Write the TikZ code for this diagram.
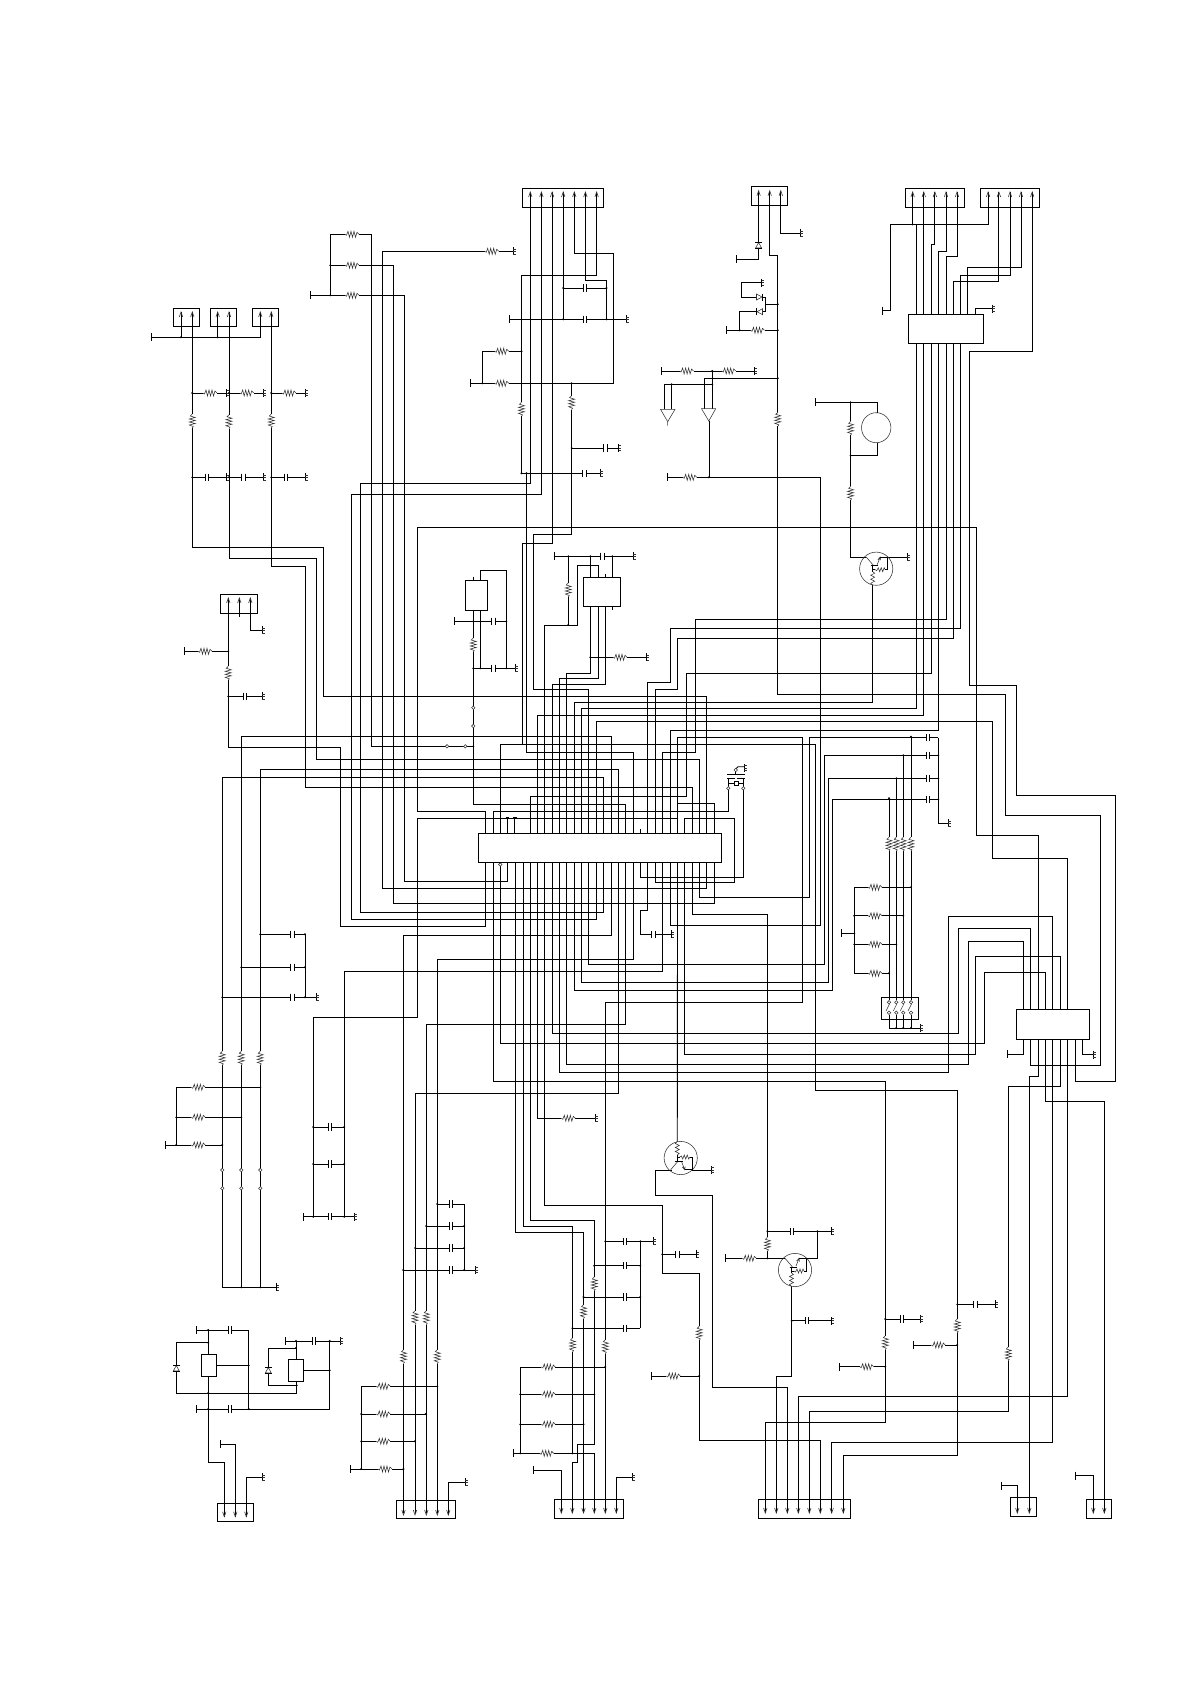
\documentclass[tikz,border=0pt]{standalone}
\tikzset{
 w/.style={line width=0.85pt,black,line join=miter},
 sym/.style={line width=0.55pt,black!80},
 boxa/.style={draw=black,line width=0.85pt,fill=white,inner sep=0pt,outer sep=0pt},
 boxb/.style={draw=black,line width=0.85pt,inner sep=0pt,outer sep=0pt}
}
\newcommand{\resH}[2]{\begin{scope}[shift={(#1,#2)}]\fill[white](-7,-3.2)rectangle(7,3.2);\draw[sym](-7,0)--(-5.5,1)--(-4,-3)--(-2.5,3)--(-1,-3)--(.5,3)--(2,-3)--(3.5,3)--(5,-2)--(7,0);\end{scope}}
\newcommand{\resV}[2]{\begin{scope}[shift={(#1,#2)},rotate=90]\fill[white](-7,-3.2)rectangle(7,3.2);\draw[sym](-7,0)--(-5.5,1)--(-4,-3)--(-2.5,3)--(-1,-3)--(.5,3)--(2,-3)--(3.5,3)--(5,-2)--(7,0);\end{scope}}
\newcommand{\capH}[2]{\begin{scope}[shift={(#1,#2)}]\fill[white](-1.7,-4)rectangle(1.7,4);\draw[w](-1.7,-3.7)--(-1.7,3.7)(1.7,-3.7)--(1.7,3.7);\end{scope}}
\newcommand{\gndR}[2]{\begin{scope}[shift={(#1,#2)}]\draw[w](0,-4)--(0,4);\draw[sym](0,-2.5)--(2.5,-2.5)(0,0)--(2.5,0)(0,2.5)--(2.5,2.5);\end{scope}}
\newcommand{\tickV}[2]{\draw[w](#1,#2-4)--(#1,#2+4);}
\newcommand{\dotN}[2]{\fill(#1,#2)circle[radius=1.1];}
\newcommand{\openC}[2]{\draw[sym,fill=white](#1,#2)circle[radius=1.7];}
\newcommand{\pinU}[2]{\draw[sym,line width=.6pt](#1-1.7,#2+5)--(#1,#2)--(#1+1.7,#2+5);}
\newcommand{\pinD}[2]{\draw[sym,line width=.6pt](#1-1.7,#2-5)--(#1,#2)--(#1+1.7,#2-5);}
\newcommand{\boxN}[6]{\pgfmathsetmacro\bw{#5-#3}\pgfmathsetmacro\bh{#6-#4}\pgfmathsetmacro\bx{(#5+#3)/2}\pgfmathsetmacro\by{(#6+#4)/2}\node[#2,minimum width=\bw pt,minimum height=\bh pt](#1)at(\bx,\by){};}
\newcommand{\transN}[3]{\begin{scope}[shift={(#1,#2)},yscale=#3]
\draw[sym](0,0)circle[radius=16.6];
\draw[sym](-10,-11.7)--(-2.5,-3)(1,-4)--(4,-11.7)(1.6,-9)--(4,-11.7)--(4.5,-8.5);
\draw[w](-5.5,-3)--(2,-3)(-3.4,-3)--(-3.4,3)(4,-11.7)--(11.7,-11.7)--(11.7,1)--(9,1)(-3.4,1)--(-1,1);
\draw[sym](-1,1)--(.5,2)--(2,-1)--(3.5,3)--(5,-1)--(6.5,3)--(8,-1)--(9,1);
\draw[sym](-3.4,3)--(-1.5,4.5)--(-5.5,6.5)--(-1.5,8.5)--(-5.5,10.5)--(-1.5,12.5)--(-5.5,14.5)--(-3.4,16.6);
\end{scope}}
\newcommand{\diodeH}[3]{\begin{scope}[shift={(#1,#2)},xscale=#3]\fill[white](-3,-3.5)rectangle(3,3.5);\draw[sym](-3,-3)--(-3,3)--(2.5,0)--cycle;\draw[w](2.7,-3.5)--(2.7,3.5);\end{scope}}
\newcommand{\diodeV}[2]{\begin{scope}[shift={(#1,#2)}]\fill[white](-3.5,-3)rectangle(3.5,3);\draw[sym](-3,3)--(3,3)--(0,-2.5)--cycle;\draw[w](-3.5,-2.7)--(3.5,-2.7)(-3.5,3)--(3.5,3);\end{scope}}
\begin{document}
\begin{tikzpicture}[x=1pt,y=-1pt]
\useasboundingbox (0,0) rectangle (1190,1684);
\fill[white](0,0)rectangle(1190,1684);
% ---- wires: upper left
\draw[w](192.3,312)--(192.3,547.3)--(323.3,547.3)--(323.3,696.3)--(706.7,696.3)--(706.7,840);
\draw[w](229,312)--(229,558.3)--(316.7,558.3)--(316.7,759.3)--(699.3,759.3)--(699.3,840);
\draw[w](271.3,312)--(271.3,566)--(305.7,566)--(305.7,787.5)--(692.3,787.5)--(692.3,840);
\draw[w](151.7,337.3)--(260.3,337.3)--(260.3,312)(181,312)--(181,337.3)(217.7,312)--(217.7,337.3);
\draw[w](192.3,393)--(226.7,393)(229,393)--(263.3,393)(271.3,393)--(305,393);
\draw[w](192.3,477.3)--(226.7,477.3)(229,477.3)--(263.3,477.3)(271.3,477.3)--(305,477.3);
\draw[w](330.3,234.3)--(371.3,234.3)--(371.3,746.3)--(473.3,746.3);
\draw[w](330.3,234.3)--(330.3,295.3)(330.3,265.3)--(393.3,265.3)--(393.3,903.3)--(714.3,903.3)--(714.3,856);
\draw[w](310.3,295.3)--(404.3,295.3)--(404.3,881.5)--(507.3,881.5)--(507.3,856);
\draw[w](513.3,251.3)--(382.3,251.3)--(382.3,888.3)--(706.7,888.3)--(706.7,856);
\draw[w](530.3,192)--(530.3,483.3)--(360.7,483.3)--(360.7,912.3)--(603.7,912.3)--(603.7,856);
\draw[w](541.4,192)--(541.4,494.3)--(351.3,494.3)--(351.3,919.5)--(596.7,919.5)--(596.7,856);
\draw[w](552.1,192)--(552.1,543.3)--(522.3,543.3)--(522.3,744.3);
\draw[w](1038.3,1015)--(1038.3,835.3)--(976.3,835.3)--(976.3,527.3)--(417.3,527.3)--(417.3,811.5)--(485.3,811.5)--(485.3,840);
% ---- top middle block
\draw[w](563.2,192)--(563.2,319.3)(509.6,319.3)--(626.4,319.3)(563.2,288)--(606.5,288);
\draw[w](574.3,192)--(574.3,253.3)--(613.8,253.3)--(613.8,383.3)--(470.7,383.3);
\draw[w](585.4,192)--(585.4,280.3)--(606.5,280.3)--(606.5,319.3);
\draw[w](596.6,192)--(596.6,275.3)--(521.5,275.3)--(521.5,473.3)--(600.4,473.3);
\draw[w](482.3,351.3)--(521.5,351.3)(482.3,351.3)--(482.3,383.3);
\draw[w](571.6,383.3)--(571.6,534.3)--(533.3,534.3)--(533.3,689.3)--(588.3,689.3)--(588.3,840);
\draw[w](571.6,448)--(618.8,448);
\draw[w](526.5,473.3)--(526.5,752.3)--(633.7,752.3)--(633.7,840);
\draw[w](500.3,840)--(500.3,744.3)--(815.7,744.3)--(815.7,1090)--(957.3,1090)--(957.3,1455.3)--(843.3,1455.3)--(843.3,1513);
% ---- small ICs
\draw[w](480.3,585)--(480.3,570.3)--(506.3,570.3)--(506.3,668.3)(454.7,621.3)--(506.3,621.3)(473.3,668.3)--(515,668.3)(480.3,605)--(480.3,668.3);
\draw[w](473.3,576.5)--(473.3,585)(473.3,605)--(473.3,804.3)--(625.5,804.3)--(625.5,840);
\draw[w](554.3,556.3)--(633.3,556.3)(568.3,556.3)--(568.3,625)(590.3,556.3)--(590.3,582)(612.3,556.3)--(612.3,582);
\draw[w](605.7,573.7)--(605.7,582)(612.3,602)--(612.3,610);
\draw[w](544.3,840)--(544.3,625)--(577.3,625)--(577.3,565.3)--(598.3,565.3)--(598.3,582);
\draw[w](590.3,602)--(590.3,673.3)--(566.3,673.3)--(566.3,840);
\draw[w](598.3,602)--(598.3,678.3)--(559.3,678.3)--(559.3,840);
\draw[w](605.7,602)--(605.7,684.3)--(552.3,684.3)--(552.3,840);
\draw[w](590.3,657.3)--(646.7,657.3);
% ---- connector E
\draw[w](228.3,598)--(228.3,747.3)--(340.7,747.3)--(340.7,926.3)--(485.3,926.3)--(485.3,856);
\draw[w](239.3,598)--(239.3,616.7)(250.3,598)--(250.3,630.3)--(262.3,630.3);
\draw[w](184.3,651.3)--(228.3,651.3)(228.3,696.3)--(262.3,696.3);
% ---- connectors C D and top IC
\draw[w](912.6,192)--(912.6,224.3)(882,310.7)--(890,310.7)--(890,224.3)--(988.1,224.3)--(988.1,192);
\draw[w](916,224.3)--(916,320)(916,338)--(916,708.3)--(581.3,708.3)--(581.3,840);
\draw[w](923.8,192)--(923.8,320)(923.8,338)--(923.8,715.3)--(537.3,715.3)--(537.3,840);
\draw[w](934.9,192)--(934.9,244.7)--(931,244.7)--(931,320)(931,338)--(931,673.3)--(686.7,673.3)--(686.7,796.7)--(530.3,796.7)--(530.3,840);
\draw[w](946,192)--(946,251.3)--(938.3,251.3)--(938.3,320)(938.3,338)--(938.3,730.5)--(670.3,730.5)--(670.3,840);
\draw[w](957,192)--(957,256.3)--(946.4,256.3)--(946.4,320)(946.4,338)--(946.4,619.3)--(695.5,619.3)--(695.5,752.3)--(662.3,752.3)--(662.3,840);
\draw[w](998.9,192)--(998.9,281.3)--(953.3,281.3)--(953.3,320)(953.3,338)--(953.3,638.3)--(677.7,638.3)--(677.7,689.3)--(655.3,689.3)--(655.3,840);
\draw[w](1010,192)--(1010,275.3)--(960.2,275.3)--(960.2,320)(960.2,338)--(960.2,628.5)--(670.3,628.5)--(670.3,682.3)--(647.3,682.3)--(647.3,840);
\draw[w](1021,192)--(1021,267.3)--(967.8,267.3)--(967.8,320);
\draw[w](1032.2,192)--(1032.2,351.3)--(969,351.3)--(969,685.3)--(1016.7,685.3)--(1016.7,795.3)--(1115.3,795.3)--(1115.3,1081.3)--(1075.3,1081.3)--(1075.3,1030);
\draw[w](975,320)--(975,308.7)--(992.3,308.7);
% ---- connector B column
\draw[w](758.6,190.7)--(758.6,259.3)--(736,259.3);
\draw[w](780.8,190.7)--(780.8,233.3)--(800,233.3);
\draw[w](769.7,190.7)--(769.7,255.3)--(777.8,255.3)--(777.8,694.3)--(1005.3,694.3)--(1005.3,815.3)--(1100.3,815.3)--(1100.3,1065.3)--(1030.3,1065.3)--(1030.3,1030);
\draw[w](761.7,282.7)--(741,282.7)--(741,297)--(765.9,297)--(765.9,311.7)--(739.8,311.7)--(739.8,330.3);
\draw[w](765.9,304.3)--(777.8,304.3)(726,330.3)--(777.8,330.3);
\draw[w](661,371)--(754.8,371)(712.3,371)--(712.3,408.7)(704.6,408.7)--(704.6,378.3)--(777.8,378.3);
\draw[w](664.8,409.3)--(664.8,384.3)--(712.3,384.3)(671.6,384.3)--(671.6,409.3);
\draw[w](667.4,477.3)--(820.5,477.3)--(820.5,925.5)--(670.3,925.5)--(670.3,856);
\draw[line width=.6pt,black](708.8,421)--(708.8,477.3);
\draw[sym](660.5,409.3)--(675,409.3)--(667.7,421.7)--cycle(667.7,421.7)--(667.7,425.7);
\draw[sym](701.5,408.7)--(715.7,408.7)--(708.8,421)--cycle;
% ---- motor column
\draw[w](815,402.3)--(877,402.3)--(877,413.3)(877,442.7)--(877,455.7)--(850.6,455.7);
\draw[line width=.6pt,black](850.6,402.3)--(850.6,557.3)--(866,557.3);
\draw[w](887,557.3)--(907,557.3);
\draw[sym](876.2,427.7)circle[x radius=14.7,y radius=15];
% ---- nets around main IC
\draw[w](872.8,585)--(872.8,702.3)--(574.3,702.3)--(574.3,840);
\draw[w](574.3,856)--(574.3,990.3)--(832.5,990.3)--(832.5,799.3)--(938.3,799.3);
\draw[w](581.3,856)--(581.3,982.5)--(828.3,982.5)--(828.3,778.3)--(938.3,778.3);
\draw[w](588.3,856)--(588.3,964.3)--(824.3,964.3)--(824.3,755.3)--(938.3,755.3);
\draw[w](677.7,840)--(677.7,803.3)--(714.3,803.3)--(714.3,840)(677.7,803.3)--(677.7,737.5)--(802.5,737.5)--(802.5,1002.3)--(605.3,1002.3)--(605.3,1513);
\draw[w](677.7,840)--(677.7,818.3)--(417.3,818.3)--(417.3,1017.3)--(313.3,1017.3)--(313.3,1216.7);
\draw[w](684.3,840)--(684.3,818.3)--(734.3,818.3)--(734.3,882.3)--(655.3,882.3)--(655.3,856);
\draw[w](640.3,856)--(640.3,877.3)--(743.3,877.3)--(743.3,788.3);
\draw[w](493.3,840)--(493.3,811.7)--(728.3,811.7)--(728.3,788.3);
\draw[w](493.3,856)--(493.3,1081.3)--(885.3,1081.3)--(885.3,1422.3)--(765.3,1422.3)--(765.3,1513);
\draw[w](662.3,856)--(662.3,971.3)--(344.3,971.3)--(344.3,1216.7);
\draw[w](633.7,856)--(633.7,959.3)--(437.3,959.3)--(437.3,1513);
\draw[w](611.3,840)--(611.3,736.5)--(241.3,736.5)--(241.3,1287.3);
\draw[w](611.3,856)--(611.3,935.5)--(403.3,935.5)--(403.3,1513);
\draw[w](618.5,840)--(618.5,769.3)--(260.3,769.3)--(260.3,1287.3);
\draw[w](618.5,856)--(618.5,1093.3)--(415.3,1093.3)--(415.3,1513);
\draw[w](603.7,840)--(603.7,777.3)--(222.3,777.3)--(222.3,1287.3)--(276.7,1287.3);
\draw[w](596.7,840)--(596.7,721.5)--(992.3,721.5)--(992.3,858.3)--(1067.3,858.3)--(1067.3,1015);
\draw[w](625.5,856)--(625.5,1024.5)--(426.3,1024.5)--(426.3,1513);
\draw[w](692.3,856)--(692.3,914.3)--(767.5,914.3)--(767.5,1258.3);
\draw[w](699.3,856)--(699.3,897.3)--(809.3,897.3)--(809.3,737.7)--(938.3,737.7);
\draw[w](647.3,856)--(647.3,910.3)--(640.3,910.3)--(640.3,934.3)--(671.7,934.3);
\draw[w](514.7,817.3)--(514.7,840)(507.3,817.3)--(507.3,840)(640.3,829)--(640.3,840);
\draw[w](505.5,817.3)--(509,817.3)(513,817.3)--(516.5,817.3);
\draw[w](537.3,856)--(537.3,1118.3)--(595,1118.3);
\draw[w](515.7,856)--(515.7,1232.3)--(583.5,1232.3)--(583.5,1513);
\draw[w](523,856)--(523,1226.5)--(572.5,1226.5)--(572.5,1453.3)--(594.3,1453.3)--(594.3,1513);
\draw[w](530.3,856)--(530.3,1220.3)--(594.3,1220.3)--(594.3,1444.3)--(577.3,1444.3)--(577.3,1462.3)--(572.3,1462.3)--(572.3,1513);
\draw[w](544.3,856)--(544.3,1205.7)--(662.3,1205.7)--(662.3,1273.3)--(699.3,1273.3)--(699.3,1440.7)--(820.3,1440.7)--(820.3,1513);
\draw[w](552.3,856)--(552.3,1033.3)--(958.3,1033.3)--(958.3,928.3)--(1030.3,928.3)--(1030.3,1015);
\draw[w](559.3,856)--(559.3,1072.3)--(948.3,1072.3)--(948.3,916.3)--(1052.3,916.3)--(1052.3,1015);
\draw[w](566.3,856)--(566.3,1064.5)--(968.3,1064.5)--(968.3,941.7)--(1023.3,941.7)--(1023.3,1015);
\draw[w](684.3,856)--(684.3,1054.3)--(975.3,1054.3)--(975.3,956.3)--(1060.3,956.3)--(1060.3,1015);
\draw[w](500.3,856)--(500.3,1043.3)--(984.3,1043.3)--(984.3,972.3)--(1045.7,972.3)--(1045.7,1015);
\draw[w](677.5,856)--(677.3,1141.7);
% crystal
\draw[w](727.3,774.7)--(745,774.7)(727.3,778.7)--(734.7,778.7)(737,778.7)--(745,778.7);
\draw[w](728.3,778.7)--(728.3,788.3)(743.3,778.7)--(743.3,788.3)(728.3,783.3)--(743.3,783.3)(735.7,774.7)--(735.7,770);
\draw[w](735.7,769)--(738,766.7)--(744.3,766.7);
\fill[white](734.3,781)rectangle(738,785.7);\draw[w](734.3,781)rectangle(738,785.7);
% ---- right side
\draw[w](938.3,737.7)--(938.3,823.3)--(948.3,823.3);
\draw[w](889,798.3)--(889,1000)(896.3,778.3)--(896.3,1000)(903.3,755.3)--(903.3,1000)(911,736.7)--(911,1000);
\draw[w](889,1015)--(889,1028)--(920,1028)(896.3,1015)--(896.3,1028)(903.3,1015)--(903.3,1028)(911,1015)--(911,1028);
\draw[w](854.3,887.3)--(911,887.3)(854.3,915.7)--(903.3,915.7)(854.3,944.3)--(896.3,944.3)(854.3,973.3)--(889,973.3)(854.3,887.3)--(854.3,973.3)(841.7,933.3)--(854.3,933.3);
\draw[w](1023.3,1030)--(1023.3,1054.3)--(1007.3,1054.3);
\draw[w](1038.3,1030)--(1038.3,1076)--(1029.3,1076)--(1029.3,1513);
\draw[w](1045.7,1030)--(1045.7,1101.3)--(1104.3,1101.3)--(1104.3,1513);
\draw[w](1052.3,1030)--(1052.3,1442.3)--(831.7,1442.3)--(831.7,1513);
\draw[w](1060.3,1030)--(1060.3,1086.3)--(1008.3,1086.3)--(1008.3,1411.7)--(809.3,1411.7)--(809.3,1513);
\draw[w](1067.3,1030)--(1067.3,1396.3)--(798.3,1396.3)--(798.3,1513);
\draw[w](1082.7,1030)--(1082.7,1054.7)--(1093.3,1054.7);
\draw[w](1017.3,1513)--(1017.3,1485.7)--(1001.3,1485.7)(1093.3,1513)--(1093.3,1475.7)--(1075.3,1475.7);
\draw[w](885.3,1319)--(920,1319)(839.3,1366.7)--(885.3,1366.7)(957.3,1304.3)--(995.7,1304.3)(913.3,1345)--(957.3,1345);
% ---- transistors bottom
\draw[w](776.3,1513)--(776.3,1376)--(791.7,1376)--(791.7,1286);
\draw[w](787.3,1513)--(787.3,1387.3)--(712.7,1387.3)--(712.7,1195.7)--(655.3,1195.7)--(655.3,1170)--(671.7,1170)(692.3,1170)--(711.3,1170);
\draw[w](662.3,1254.3)--(696.7,1254.3)(651.7,1376)--(699.3,1376);
\draw[w](767.5,1231.3)--(831.7,1231.3)(817.3,1231.3)--(817.3,1258.3)--(806.7,1258.3)(725.3,1258.3)--(785,1258.3)(791.7,1320.7)--(831.7,1320.7);
% ---- bottom centre
\draw[w](616.3,1513)--(616.3,1477.3)--(632.3,1477.3)(561.3,1513)--(561.3,1470.3)--(533.3,1470.3);
\draw[w](605.3,1241.3)--(653.3,1241.3)(594.3,1265.7)--(640.3,1265.7)(583.5,1297)--(640.3,1297)(572.5,1328.3)--(640.3,1328.3)(640.3,1241.3)--(640.3,1328.3);
\draw[w](520.3,1367)--(605.3,1367)(520.3,1394.3)--(594.3,1394.3)(520.3,1424.3)--(583.5,1424.3)(513.3,1453.3)--(572.5,1453.3)(520.3,1367)--(520.3,1453.3);
% ---- left
\draw[w](260.3,934.3)--(305,934.3)(241.3,967.3)--(305,967.3)(222.3,997.3)--(316,997.3)(305,934.3)--(305,997.3);
\draw[w](176.3,1087.3)--(260.3,1087.3)(176.3,1117.3)--(241.3,1117.3)(165.3,1145)--(222.3,1145)(176.3,1087.3)--(176.3,1145);
\draw[w](241.3,1287.3)--(260.3,1287.3);
\draw[w](313.3,1127)--(344.3,1127)(313.3,1164)--(344.3,1164)(303.3,1216.7)--(354,1216.7);
\draw[w](437.3,1204)--(464.3,1204)--(464.3,1270)(426.3,1226)--(464.3,1226)(415.3,1248)--(464.3,1248)(403.3,1270)--(475,1270);
\draw[w](361.3,1386.3)--(437.3,1386.3)(361.3,1414)--(425.8,1414)(361.3,1441.3)--(415,1441.3)(350.3,1469)--(403.5,1469)(361.3,1386.3)--(361.3,1469);
\draw[w](448.3,1515)--(448.3,1482.3)--(465,1482.3);
% ---- power block lower left
\draw[w](196.3,1330)--(248.7,1330)--(248.7,1409)(208.3,1330)--(208.3,1360)(208.3,1372)--(208.3,1462.3)--(224.3,1462.3)--(224.3,1516.7);
\draw[w](208.3,1342.7)--(176.3,1342.7)--(176.3,1393)--(296.7,1393)--(296.7,1376);
\draw[w](216,1365.3)--(248.7,1365.3)(196.3,1409)--(329.7,1409)--(329.7,1341);
\draw[w](285.7,1341)--(340,1341)(296,1341)--(296,1365)(296,1348)--(268.3,1348)--(268.3,1385.3)--(296.7,1385.3)(300,1370.3)--(329.7,1370.3);
\draw[w](235.3,1516.7)--(235.3,1444.3)--(220.7,1444.3)(246.3,1516.7)--(246.3,1477.3)--(262.3,1477.3);
% ---- resistors
\foreach \a/\b in {210/393,246.7/393,289/393,205/651.3,491.7/251.3,501.7/351.3,501.7/383.3,620/657.3,757.5/330.3,686.6/371,728.7/371,689.7/477.3,352/234.3,352/265.3,352/295.3,875/887.3,875/915.7,875/944.3,875/973.3,568.3/1118.3,866.7/1366.7,938.3/1345,749.3/1258.3,673.3/1376,198.3/1087.3,198.3/1117.3,198.3/1145,383.3/1386.3,383.3/1414,383.3/1441.3,385/1469,548.3/1367,548.3/1394.3,548.3/1424.3,546.7/1453.3}{\resH{\a}{\b}}
\foreach \a/\b in {192.3/421,229/421.7,271.3/421,228.3/673.3,473.3/645,568.3/590,521.5/409.3,571.6/402.7,777.8/419.3,850.6/428.3,850.6/493.3,889/844.3,896.3/844.3,903.3/844.3,911/844.3,222.3/1058.3,241.3/1058.3,260.3/1058.3,403.5/1356.7,437.3/1356.7,415/1317.7,426.3/1317.7,594.3/1284,583.5/1311.7,572.5/1345,605.3/1346.7,699.3/1333.3,767.5/1244.3,885.3/1342.7,957.3/1326,1008.3/1354}{\resV{\a}{\b}}
% ---- capacitors
\foreach \a/\b in {206.7/477.3,243.3/477.3,285.7/477.3,245/696.3,585/288,585/319.3,584.3/473.3,605.4/448,493.3/621.3,493.3/668.3,602.3/556.3,653.3/934.3,927.7/737.7,927.7/755.3,927.7/778.3,927.7/799.3,292.3/934.3,292.3/967.3,292.3/997.3,330/1127,330/1164,330/1216.7,451/1204,451/1226,451/1248,451/1270,625/1241.3,625/1265.7,625/1297,625/1328.3,677.3/1254.3,791.7/1231.3,806.7/1320.7,902/1319,975.3/1304.3,230/1330,230/1409,314/1341}{\capH{\a}{\b}}
% ---- grounds
\foreach \a/\b in {226.7/393,263.3/393,305/393,226.7/477.3,263.3/477.3,305/477.3,262.3/630.3,262.3/696.3,513.3/251.3,626.4/319.3,600.4/473.3,618.8/448,515/668.3,633.3/556.3,646.7/657.3,800/233.3,761.7/282.7,754.8/371,992.3/308.7,907/557.3,948.3/823.3,920/1028,1093.3/1054.7,671.7/934.3,595/1118.3,276.7/1287.3,354/1216.7,316/997.3,475/1270,465/1482.3,262.3/1477.3,340/1341,632.3/1477.3,653.3/1241.3,696.7/1254.3,711.3/1170,831.7/1231.3,831.7/1320.7,920/1319,995.7/1304.3,744.3/768}{\gndR{\a}{\b}}
% ---- end bars
\foreach \a/\b in {151.7/337.3,310.3/295.3,470.7/383.3,509.6/319.3,184.3/651.3,454.7/621.3,554.3/556.3,736/259.3,726/330.3,661/371,667.4/477.3,815/402.3,882/310.7,1007.3/1054.3,841.7/933.3,165.3/1145,303.3/1216.7,350.3/1469,196.3/1330,196.3/1409,285.7/1341,220.7/1444.3,533.3/1470.3,513.3/1453.3,651.7/1376,725.3/1258.3,839.3/1366.7,913.3/1345,1001.3/1485.7,1075.3/1475.7}{\tickV{\a}{\b}}
% ---- dots
\foreach \a/\b in {181/337.3,217.7/337.3,192.3/393,229/393,271.3/393,192.3/477.3,229/477.3,271.3/477.3,330.3/265.3,330.3/295.3,482.3/383.3,521.5/351.3,571.6/383.3,563.2/288,606.5/288,563.2/319.3,606.5/319.3,521.5/473.3,526.5/473.3,571.6/448,228.3/651.3,228.3/696.3,473.3/621.3,506.3/621.3,473.3/668.3,480.3/668.3,506.3/668.3,473.3/746.3,568.3/556.3,590.3/556.3,612.3/556.3,568.3/625,590.3/657.3,777.8/304.3,777.8/330.3,777.8/378.3,739.8/330.3,712.3/371,712.3/384.3,671.6/384.3,708.8/477.3,850.6/402.3,850.6/455.7,912.6/224.3,911/736.7,903.3/755.3,896.3/778.3,889/798.3,938.3/755.3,938.3/778.3,938.3/799.3,911/887.3,903.3/915.7,896.3/944.3,889/973.3,854.3/915.7,854.3/933.3,854.3/944.3,896.3/1028,903.3/1028,911/1028,222.3/997.3,241.3/967.3,260.3/934.3,305/934.3,305/967.3,305/997.3,260.3/1087.3,241.3/1117.3,222.3/1145,176.3/1117.3,176.3/1145,241.3/1287.3,260.3/1287.3,313.3/1127,344.3/1127,313.3/1164,344.3/1164,313.3/1216.7,344.3/1216.7,437.3/1204,426.3/1226,415.3/1248,403.3/1270,464.3/1226,464.3/1248,464.3/1270,437.3/1386.3,425.8/1414,415/1441.3,403.5/1469,361.3/1414,361.3/1441.3,361.3/1469,605.3/1241.3,640.3/1241.3,594.3/1265.7,640.3/1265.7,583.5/1297,640.3/1297,572.5/1328.3,605.3/1367,594.3/1394.3,583.5/1424.3,520.3/1394.3,520.3/1424.3,520.3/1453.3,572.5/1453.3,662.3/1254.3,699.3/1376,767.5/1231.3,817.3/1231.3,767.5/1258.3,791.7/1320.7,885.3/1319,885.3/1366.7,957.3/1304.3,957.3/1345,208.3/1330,208.3/1342.7,248.7/1365.3,248.7/1409,208.3/1393,208.3/1409,296/1341,296/1348,296.7/1385.3,329.7/1341,329.7/1370.3}{\dotN{\a}{\b}}
% ---- small open circles
\foreach \a/\b in {447/746.3,465.3/746.3,473.3/707.7,473.3/726,500.3/864.5,728.3/788.3,743.3/788.3,735.7/770,222.3/1170,241.3/1170,260.3/1170,222.3/1188.3,241.3/1188.3,260.3/1188.3}{\openC{\a}{\b}}
% ---- diodes
\diodeV{758.6}{245}
\diodeH{759.5}{297}{1}
\diodeH{759.5}{311.7}{-1}
\diodeV{176.3}{1368}
\diodeV{268.3}{1370}
% ---- transistors
\transN{876.2}{568.7}{1}
\transN{795}{1270}{1}
\transN{680.7}{1158}{-1}
% ---- switch symbols
\foreach \a in {889,896.3,903.3,911}{\openC{\a}{1002.3}\openC{\a}{1012.7}\draw[sym](\a+.5,1004)--(\a-3,1011);}
% ---- connectors
\boxN{cOne}{boxb}{173.3}{308.3}{199.3}{326.7}
\boxN{cTwo}{boxb}{210.3}{308.3}{236.3}{326.7}
\boxN{cThree}{boxb}{252.3}{308.3}{278.3}{326.7}
\boxN{cE}{boxb}{220.3}{594.3}{257.7}{613.3}
\boxN{cA}{boxb}{522.2}{188.7}{603.4}{207.3}
\boxN{cB}{boxb}{751.7}{186.3}{787.7}{205.3}
\boxN{cC}{boxb}{905}{188.7}{964}{207.3}
\boxN{cD}{boxb}{980.8}{188.7}{1039.9}{207.3}
\boxN{cF}{boxb}{217.3}{1503.3}{253.7}{1521.3}
\boxN{cG}{boxb}{396.3}{1500.3}{455.7}{1518.3}
\boxN{cH}{boxb}{554.3}{1499.3}{623.3}{1518.3}
\boxN{cI}{boxb}{758.3}{1499.3}{850.3}{1518.3}
\boxN{cJ}{boxb}{1010.3}{1497.3}{1036.3}{1516.3}
\boxN{cK}{boxb}{1086.3}{1499.3}{1111.7}{1518.3}
\boxN{sw}{boxb}{881.3}{997.3}{918.7}{1019.3}
% ---- ICs
\boxN{icMain}{boxa}{478.3}{833.3}{721.7}{862.7}
\boxN{icTop}{boxa}{908.8}{314.3}{983.1}{343.3}
\boxN{icA}{boxa}{465.3}{580.3}{487.3}{610.3}
\boxN{icB}{boxa}{583.3}{577.3}{620.3}{606.7}
\boxN{icRight}{boxa}{1016.3}{1009.3}{1089.7}{1039.3}
\boxN{icC}{boxa}{201.3}{1354.3}{216.7}{1376.3}
\boxN{icD}{boxa}{288.3}{1359.3}{303.7}{1381.7}
% ---- pins
\foreach \a in {181,192.3,217.7,229,260.3,271.3}{\pinU{\a}{312}}
\foreach \a in {228.3,239.3,250.3}{\pinU{\a}{598}}
\foreach \a in {530.3,541.4,552.1,563.2,574.3,585.4,596.6,912.6,923.8,934.9,946,957,988.1,998.9,1010,1021,1032.2}{\pinU{\a}{192}}
\foreach \a in {758.6,769.7,780.8}{\pinU{\a}{190.7}}
\foreach \a in {224.3,235.3,246.3}{\pinD{\a}{1516.7}}
\foreach \a in {403.5,415,426.3,437.3,448.3}{\pinD{\a}{1515}}
\foreach \a in {561.3,572.3,583.5,594.3,605.3,616.3,765.3,776.3,787.3,798.3,809.3,820.3,831.7,843.3,1017.3,1029.3,1093.3,1104.3}{\pinD{\a}{1513}}
\end{tikzpicture}
\end{document}
